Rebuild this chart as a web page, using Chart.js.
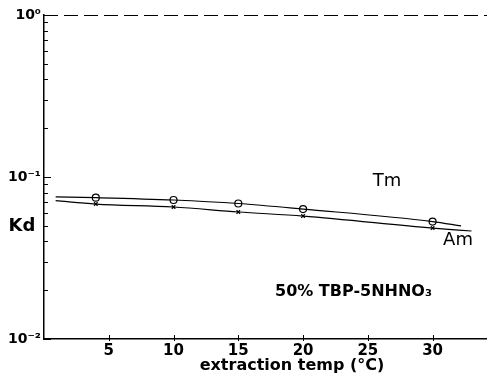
<!DOCTYPE html>
<html>
<head>
<meta charset="utf-8">
<script src="https://cdn.jsdelivr.net/npm/chart.js@4"></script>
<style>
  body { margin: 0; background: #fff; }
  canvas { display: block; }
</style>
</head>
<body>
<canvas id="chart" width="487" height="377"></canvas>
<script>
// measured points, extraction temp (C) vs Kd
const temps = [4, 10, 15, 20, 30];
const kdTm = [0.0745, 0.0721, 0.0686, 0.0634, 0.0531];
const kdAm = [0.0681, 0.0653, 0.0608, 0.0574, 0.0484];

// drawn curves through the points
const tmCurveT = [0.9, 4, 10, 15, 20, 30, 32.2];
const tmCurveKd = [0.0753, 0.0745, 0.0721, 0.0686, 0.0634, 0.0531, 0.0499];
const amCurveT = [0.9, 4, 10, 15, 20, 30, 33.0];
const amCurveKd = [0.0714, 0.0681, 0.0653, 0.0608, 0.0574, 0.0484, 0.0464];

const xTicks = [5, 10, 15, 20, 25, 30];
const yTicks = [0.01, 0.02, 0.03, 0.04, 0.05, 0.06, 0.07, 0.08, 0.09,
                0.1, 0.2, 0.3, 0.4, 0.5, 0.6, 0.7, 0.8, 0.9, 1];
const yLabels = { 0.01: '10⁻²', 0.1: '10⁻¹', 1: '10⁰' };

const font = 'DejaVu Sans';

function pts(xs, ys) {
  return xs.map((x, i) => ({ x: x, y: ys[i] }));
}

// inner ticks, dashed top border, and the text labels
const extras = {
  id: 'extras',
  afterDraw(chart) {
    const ctx = chart.ctx;
    const a = chart.chartArea;
    const xs = chart.scales.x;
    const ys = chart.scales.y;
    ctx.save();
    ctx.strokeStyle = '#000';
    ctx.lineWidth = 1;

    // y ticks pointing in
    yTicks.forEach(v => {
      const y = Math.round(ys.getPixelForValue(v)) + 0.5;
      const len = yLabels[v] ? 7 : 4;
      ctx.beginPath();
      ctx.moveTo(a.left, y);
      ctx.lineTo(a.left + len, y);
      ctx.stroke();
    });
    // x ticks
    xTicks.forEach(v => {
      const x = Math.round(xs.getPixelForValue(v)) + 0.5;
      ctx.beginPath();
      ctx.moveTo(x, a.bottom - 4);
      ctx.lineTo(x, a.bottom + 2);
      ctx.stroke();
    });
    // top border, dashed like the scan
    ctx.setLineDash([14, 6]);
    ctx.beginPath();
    ctx.moveTo(a.left, a.top + 0.5);
    ctx.lineTo(a.right, a.top + 0.5);
    ctx.stroke();
    ctx.setLineDash([]);

    ctx.fillStyle = '#000';
    ctx.textBaseline = 'middle';
    ctx.textAlign = 'center';
    ctx.font = 'bold 18px "' + font + '"';
    ctx.fillText('Kd', 22, 226);
    ctx.font = '18px "' + font + '"';
    ctx.fillText('Tm', 387, 181);
    ctx.fillText('Am', 458, 240);
    ctx.font = 'bold 16px "' + font + '"';
    ctx.textAlign = 'left';
    ctx.fillText('50% TBP-5NHNO₃', 275, 292);
    ctx.textAlign = 'center';
    ctx.fillText('extraction temp (°C)', 292, 366);
    ctx.restore();
  }
};

new Chart(document.getElementById('chart'), {
  type: 'line',
  data: {
    datasets: [
      {
        label: 'Tm curve',
        data: pts(tmCurveT, tmCurveKd),
        borderColor: '#000',
        borderWidth: 1.2,
        pointRadius: 0,
        tension: 0.3,
        cubicInterpolationMode: 'monotone',
      },
      {
        label: 'Am curve',
        data: pts(amCurveT, amCurveKd),
        borderColor: '#000',
        borderWidth: 1.2,
        pointRadius: 0,
        tension: 0.3,
        cubicInterpolationMode: 'monotone',
      },
      {
        label: 'Tm',
        data: pts(temps, kdTm),
        showLine: false,
        pointStyle: 'circle',
        pointRadius: 3.5,
        pointBackgroundColor: '#fff',
        pointBorderColor: '#000',
        pointBorderWidth: 1.2,
      },
      {
        label: 'Am',
        data: pts(temps, kdAm),
        showLine: false,
        pointStyle: 'crossRot',
        pointRadius: 2.5,
        pointBorderColor: '#000',
        pointBorderWidth: 1.2,
      },
    ],
  },
  options: {
    responsive: false,
    animation: false,
    layout: { autoPadding: false, padding: { left: 0, right: 0, top: 15, bottom: 0 } },
    plugins: {
      legend: { display: false },
      tooltip: { enabled: false },
    },
    scales: {
      x: {
        type: 'linear',
        min: 0,
        max: 34.2,
        afterFit: s => { s.height = 38; s.paddingLeft = 0; s.paddingRight = 0; },
        afterBuildTicks: s => { s.ticks = xTicks.map(v => ({ value: v })); },
        grid: { display: false, drawTicks: false },
        border: { color: '#000', width: 1.5 },
        ticks: {
          color: '#000',
          padding: 3,
          maxRotation: 0,
          font: { family: font, size: 15, weight: 'bold' },
        },
      },
      y: {
        type: 'logarithmic',
        min: 0.01,
        max: 1,
        afterFit: s => { s.width = 44; s.paddingTop = 0; s.paddingBottom = 0; },
        afterBuildTicks: s => { s.ticks = yTicks.map(v => ({ value: v })); },
        grid: { display: false, drawTicks: false },
        border: { color: '#000', width: 1.5 },
        ticks: {
          color: '#000',
          padding: 3,
          autoSkip: false,
          font: { family: font, size: 14, weight: 'bold' },
          callback: v => yLabels[v] || '',
        },
      },
    },
  },
  plugins: [extras],
});
</script>
</body>
</html>
